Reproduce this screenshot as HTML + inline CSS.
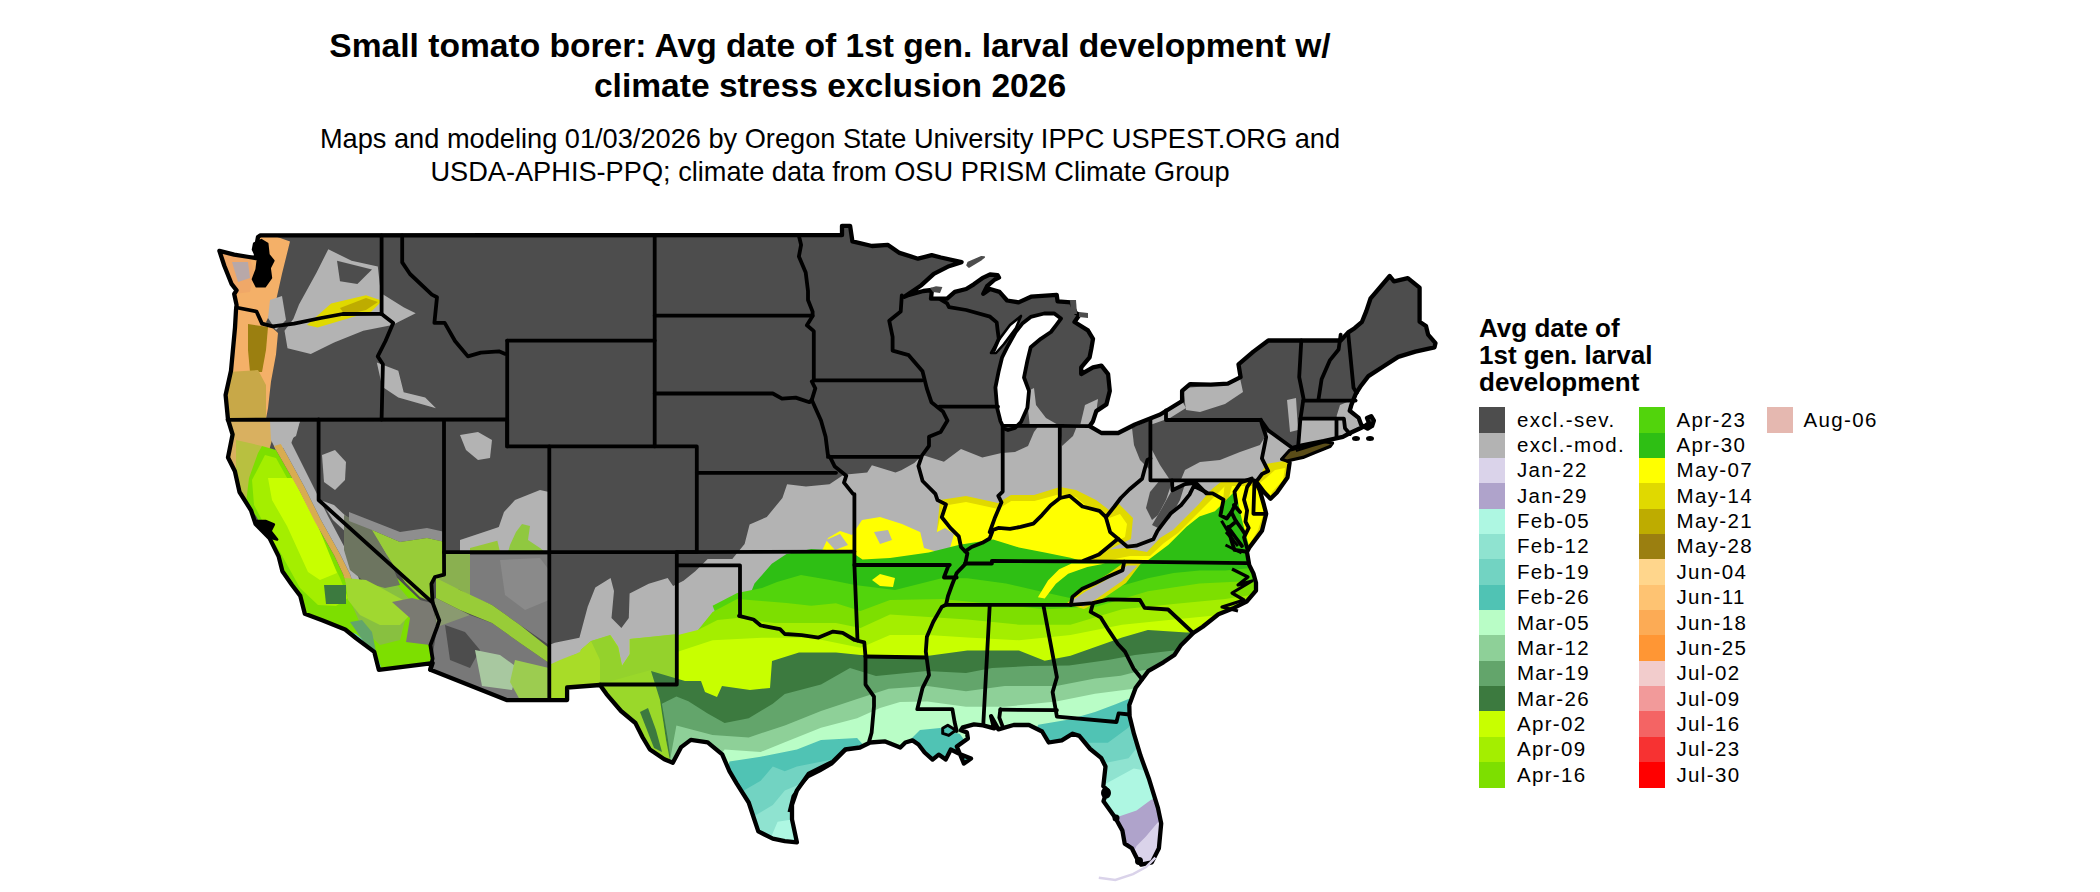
<!DOCTYPE html>
<html><head><meta charset="utf-8">
<style>
html,body{margin:0;padding:0;background:#fff;}
body{width:2100px;height:892px;position:relative;overflow:hidden;font-family:"Liberation Sans",sans-serif;color:#000;}
.t{position:absolute;white-space:nowrap;left:0;width:1660px;text-align:center;}
#t1{top:26px;font-size:33.6px;font-weight:bold;line-height:39.8px;}
#s1{top:122px;font-size:27.2px;line-height:33.3px;}
#map{position:absolute;left:0;top:0;}
.lt{position:absolute;left:1479px;top:314.5px;font-size:26px;font-weight:bold;line-height:27.4px;white-space:nowrap;}
.sw{position:absolute;width:25.7px;height:25.5px;}
.lb{position:absolute;font-size:20.5px;line-height:24px;letter-spacing:1.35px;white-space:nowrap;}
</style></head><body>
<div class="t" id="t1">Small tomato borer: Avg date of 1st gen. larval development w/<br>climate stress exclusion 2026</div>
<div class="t" id="s1">Maps and modeling 01/03/2026 by Oregon State University IPPC USPEST.ORG and<br>USDA-APHIS-PPQ; climate data from OSU PRISM Climate Group</div>
<svg id="map" width="2100" height="892" viewBox="0 0 2100 892"><defs><clipPath id="lc"><polygon points="260.5,235.3 842.0,235.2 842.0,225.8 850.1,225.8 852.4,241.4 872.0,246.0 888.0,244.9 899.5,252.9 918.0,258.7 931.7,255.2 941.0,257.5 961.6,262.1 949.0,266.2 933.8,273.8 921.4,285.2 904.3,296.7 909.0,294.8 923.3,291.0 931.9,290.0 931.0,298.6 939.5,298.6 947.1,298.6 954.8,291.9 966.2,289.0 973.8,284.3 983.3,277.6 990.0,274.5 997.6,275.2 999.0,277.5 994.8,279.5 987.1,286.2 983.3,293.8 990.0,289.0 999.5,291.9 1007.1,300.5 1018.6,302.4 1031.0,296.7 1056.7,294.8 1057.6,301.4 1071.0,302.4 1075.7,312.9 1079.5,314.8 1074.5,322.0 1087.9,330.4 1093.0,338.8 1091.3,348.9 1089.6,357.3 1081.2,367.4 1081.2,374.1 1093.0,367.4 1101.4,365.7 1108.1,374.1 1109.8,390.9 1106.4,404.4 1096.3,411.1 1093.0,421.2 1089.6,426.2 1101.4,433.0 1118.2,433.0 1135.0,424.5 1160.2,414.5 1182.1,401.0 1182.1,390.9 1190.0,384.2 1210.8,384.6 1227.8,383.6 1240.6,377.2 1238.5,364.4 1253.4,351.6 1268.3,340.5 1340.7,340.5 1348.2,332.4 1354.6,328.2 1362.0,321.8 1366.3,311.1 1370.6,298.3 1389.7,276.0 1394.0,281.3 1407.8,278.1 1419.6,287.7 1419.6,321.8 1426.0,326.0 1428.1,334.6 1435.5,343.1 1434.5,347.3 1415.3,351.6 1398.2,356.9 1383.3,366.5 1368.4,376.1 1361.0,385.7 1355.6,394.2 1351.4,404.9 1349.7,410.8 1358.7,417.9 1361.3,425.1 1367.6,428.7 1372.1,426.0 1373.9,420.6 1371.2,416.1 1367.0,418.0 1369.0,423.0 1365.0,426.0 1358.7,429.0 1350.0,433.0 1342.9,436.8 1323.7,441.1 1302.4,445.3 1293.9,447.5 1285.4,458.4 1289.6,462.6 1287.5,477.5 1276.9,492.4 1270.5,498.8 1264.0,492.0 1258.0,484.0 1256.0,482.5 1259.8,490.3 1264.0,505.2 1266.2,513.8 1262.0,530.8 1249.2,547.8 1247.0,552.1 1249.2,564.9 1253.4,573.4 1256.0,582.8 1256.0,590.6 1246.6,601.6 1234.0,607.9 1218.4,614.2 1202.7,626.7 1193.2,633.0 1180.7,645.6 1174.4,655.0 1163.4,662.3 1148.5,670.8 1142.1,679.3 1135.7,687.8 1129.3,704.9 1129.6,716.2 1133.9,733.7 1140.5,755.6 1149.2,779.6 1158.0,808.1 1161.2,823.5 1158.9,848.3 1151.8,862.4 1141.2,864.7 1137.7,860.0 1131.8,848.3 1124.7,843.6 1122.4,830.6 1115.3,817.7 1103.5,801.2 1105.5,795.0 1107.7,790.6 1103.3,786.2 1105.5,766.5 1101.1,757.8 1090.2,749.0 1079.3,735.9 1072.7,733.7 1061.8,740.3 1048.7,742.5 1042.1,731.5 1029.0,725.0 1013.7,725.0 998.4,729.4 991.1,716.2 994.2,728.3 983.1,725.3 974.0,724.3 962.9,727.3 960.9,730.3 966.9,732.4 967.9,738.4 956.8,746.5 963.9,763.6 971.0,758.6 960.9,754.6 950.8,749.5 945.7,759.6 938.7,754.6 932.6,759.6 924.6,752.5 918.5,744.5 912.5,740.4 905.4,742.5 900.3,747.5 885.2,741.4 870.1,742.5 860.0,747.5 845.1,749.5 833.0,761.6 808.9,773.6 796.9,790.5 792.0,804.9 792.0,819.4 796.9,842.3 784.8,841.1 772.8,838.7 758.3,831.4 753.5,817.0 748.7,802.5 736.6,783.3 729.4,771.2 722.2,754.3 707.7,742.3 690.8,739.9 681.2,747.1 672.8,762.8 664.3,759.2 649.9,749.5 642.7,737.5 635.4,723.0 621.0,711.0 606.5,694.1 600.0,685.0 567.1,687.5 567.1,700.1 506.6,700.1 430.4,669.8 432.6,663.1 378.8,669.8 374.3,651.9 356.4,638.5 345.2,629.5 322.8,620.5 304.8,613.8 300.3,595.9 292.0,585.0 282.4,571.2 278.6,556.3 269.4,537.9 255.6,524.1 251.0,510.3 239.5,492.0 234.9,471.3 228.0,457.5 232.6,434.5 228.0,419.5 225.6,395.0 231.0,370.7 235.0,327.6 236.0,310.0 236.6,305.1 234.2,294.0 236.6,290.3 231.7,284.2 224.3,265.7 219.4,250.9 234.2,254.6 249.0,257.0 256.0,258.0 256.0,248.0 258.0,237.0"/></clipPath></defs><polygon points="260.5,235.3 842.0,235.2 842.0,225.8 850.1,225.8 852.4,241.4 872.0,246.0 888.0,244.9 899.5,252.9 918.0,258.7 931.7,255.2 941.0,257.5 961.6,262.1 949.0,266.2 933.8,273.8 921.4,285.2 904.3,296.7 909.0,294.8 923.3,291.0 931.9,290.0 931.0,298.6 939.5,298.6 947.1,298.6 954.8,291.9 966.2,289.0 973.8,284.3 983.3,277.6 990.0,274.5 997.6,275.2 999.0,277.5 994.8,279.5 987.1,286.2 983.3,293.8 990.0,289.0 999.5,291.9 1007.1,300.5 1018.6,302.4 1031.0,296.7 1056.7,294.8 1057.6,301.4 1071.0,302.4 1075.7,312.9 1079.5,314.8 1074.5,322.0 1087.9,330.4 1093.0,338.8 1091.3,348.9 1089.6,357.3 1081.2,367.4 1081.2,374.1 1093.0,367.4 1101.4,365.7 1108.1,374.1 1109.8,390.9 1106.4,404.4 1096.3,411.1 1093.0,421.2 1089.6,426.2 1101.4,433.0 1118.2,433.0 1135.0,424.5 1160.2,414.5 1182.1,401.0 1182.1,390.9 1190.0,384.2 1210.8,384.6 1227.8,383.6 1240.6,377.2 1238.5,364.4 1253.4,351.6 1268.3,340.5 1340.7,340.5 1348.2,332.4 1354.6,328.2 1362.0,321.8 1366.3,311.1 1370.6,298.3 1389.7,276.0 1394.0,281.3 1407.8,278.1 1419.6,287.7 1419.6,321.8 1426.0,326.0 1428.1,334.6 1435.5,343.1 1434.5,347.3 1415.3,351.6 1398.2,356.9 1383.3,366.5 1368.4,376.1 1361.0,385.7 1355.6,394.2 1351.4,404.9 1349.7,410.8 1358.7,417.9 1361.3,425.1 1367.6,428.7 1372.1,426.0 1373.9,420.6 1371.2,416.1 1367.0,418.0 1369.0,423.0 1365.0,426.0 1358.7,429.0 1350.0,433.0 1342.9,436.8 1323.7,441.1 1302.4,445.3 1293.9,447.5 1285.4,458.4 1289.6,462.6 1287.5,477.5 1276.9,492.4 1270.5,498.8 1264.0,492.0 1258.0,484.0 1256.0,482.5 1259.8,490.3 1264.0,505.2 1266.2,513.8 1262.0,530.8 1249.2,547.8 1247.0,552.1 1249.2,564.9 1253.4,573.4 1256.0,582.8 1256.0,590.6 1246.6,601.6 1234.0,607.9 1218.4,614.2 1202.7,626.7 1193.2,633.0 1180.7,645.6 1174.4,655.0 1163.4,662.3 1148.5,670.8 1142.1,679.3 1135.7,687.8 1129.3,704.9 1129.6,716.2 1133.9,733.7 1140.5,755.6 1149.2,779.6 1158.0,808.1 1161.2,823.5 1158.9,848.3 1151.8,862.4 1141.2,864.7 1137.7,860.0 1131.8,848.3 1124.7,843.6 1122.4,830.6 1115.3,817.7 1103.5,801.2 1105.5,795.0 1107.7,790.6 1103.3,786.2 1105.5,766.5 1101.1,757.8 1090.2,749.0 1079.3,735.9 1072.7,733.7 1061.8,740.3 1048.7,742.5 1042.1,731.5 1029.0,725.0 1013.7,725.0 998.4,729.4 991.1,716.2 994.2,728.3 983.1,725.3 974.0,724.3 962.9,727.3 960.9,730.3 966.9,732.4 967.9,738.4 956.8,746.5 963.9,763.6 971.0,758.6 960.9,754.6 950.8,749.5 945.7,759.6 938.7,754.6 932.6,759.6 924.6,752.5 918.5,744.5 912.5,740.4 905.4,742.5 900.3,747.5 885.2,741.4 870.1,742.5 860.0,747.5 845.1,749.5 833.0,761.6 808.9,773.6 796.9,790.5 792.0,804.9 792.0,819.4 796.9,842.3 784.8,841.1 772.8,838.7 758.3,831.4 753.5,817.0 748.7,802.5 736.6,783.3 729.4,771.2 722.2,754.3 707.7,742.3 690.8,739.9 681.2,747.1 672.8,762.8 664.3,759.2 649.9,749.5 642.7,737.5 635.4,723.0 621.0,711.0 606.5,694.1 600.0,685.0 567.1,687.5 567.1,700.1 506.6,700.1 430.4,669.8 432.6,663.1 378.8,669.8 374.3,651.9 356.4,638.5 345.2,629.5 322.8,620.5 304.8,613.8 300.3,595.9 292.0,585.0 282.4,571.2 278.6,556.3 269.4,537.9 255.6,524.1 251.0,510.3 239.5,492.0 234.9,471.3 228.0,457.5 232.6,434.5 228.0,419.5 225.6,395.0 231.0,370.7 235.0,327.6 236.0,310.0 236.6,305.1 234.2,294.0 236.6,290.3 231.7,284.2 224.3,265.7 219.4,250.9 234.2,254.6 249.0,257.0 256.0,258.0 256.0,248.0 258.0,237.0" fill="#4d4d4d"/><g clip-path="url(#lc)"><polygon points="549.0,645.0 554.8,642.7 579.4,637.8 587.7,606.7 595.3,587.6 610.6,578.1 614.0,591.0 611.5,618.1 621.4,628.0 628.8,618.1 629.6,593.4 648.7,583.8 667.7,578.1 673.1,586.0 678.0,583.6 683.5,580.7 695.3,571.3 707.7,558.9 732.3,558.9 744.6,544.1 749.6,524.4 766.8,517.0 782.4,498.0 787.1,484.2 806.0,486.5 829.5,484.2 843.7,474.7 867.2,472.4 871.9,465.3 895.5,472.4 901.3,470.3 914.3,463.0 922.6,455.0 943.9,461.8 961.0,449.0 982.3,457.5 1001.5,453.0 1015.0,452.0 1028.0,446.0 1034.0,432.0 1040.0,424.0 1060.0,424.0 1089.0,424.0 1101.4,433.0 1118.2,433.0 1135.0,424.5 1150.0,420.0 1262.0,420.0 1275.0,436.0 1290.0,447.0 1300.0,447.0 1460.0,447.0 1460.0,900.0 540.0,900.0" fill="#b3b3b3"/><polygon points="1060.0,426.0 1077.0,426.0 1073.0,436.0 1062.0,446.0" fill="#4d4d4d"/><polygon points="1026.0,392.0 1034.0,388.0 1036.0,405.0 1046.0,418.0 1060.0,426.0 1030.0,427.0" fill="#b3b3b3"/><polygon points="1085.0,405.0 1098.0,399.0 1096.0,414.0 1090.0,426.0 1080.0,426.0" fill="#b3b3b3"/><polygon points="1150.0,420.0 1262.0,420.0 1268.0,432.0 1260.0,445.0 1240.0,452.0 1220.0,460.0 1200.0,462.0 1185.0,470.0 1180.0,482.0 1170.0,480.0 1160.0,465.0 1152.0,450.0" fill="#4d4d4d"/><polygon points="1183.0,388.0 1210.0,386.0 1228.0,385.0 1240.0,378.0 1243.0,392.0 1225.0,404.0 1200.0,412.0 1186.0,410.0" fill="#b3b3b3"/><polygon points="1150.0,419.0 1166.0,411.0 1182.0,401.0 1186.0,408.0 1170.0,418.0 1150.0,425.0" fill="#b3b3b3"/><polygon points="1300.0,420.0 1336.0,418.0 1340.0,405.0 1352.0,400.0 1362.0,420.0 1370.0,432.0 1345.0,440.0 1300.0,447.0" fill="#b3b3b3"/><polygon points="1287.0,400.0 1296.0,398.0 1298.0,430.0 1290.0,432.0" fill="#b3b3b3"/><polygon points="1380.0,370.0 1398.0,360.0 1412.0,356.0 1408.0,368.0 1392.0,374.0" fill="#b3b3b3"/><polygon points="1132.0,428.0 1150.0,420.0 1150.0,470.0 1140.0,460.0 1134.0,445.0" fill="#4d4d4d"/><polygon points="1150.0,492.0 1160.0,480.0 1172.0,482.0 1166.0,500.0 1158.0,515.0 1152.0,520.0 1146.0,508.0" fill="#4d4d4d"/><polygon points="1172.0,490.0 1185.0,484.0 1180.0,500.0 1170.0,518.0 1158.0,528.0 1152.0,525.0 1162.0,508.0" fill="#4d4d4d"/><polygon points="936.0,540.0 940.0,500.0 966.0,496.0 998.0,503.0 1011.0,495.0 1034.0,495.0 1060.0,487.0 1076.0,490.0 1096.0,500.0 1109.0,510.0 1118.0,503.0 1133.0,518.0 1131.0,539.0 1112.0,548.0 1096.0,558.0 1084.0,564.0 1070.0,605.0 940.0,600.0" fill="#e0d900"/><polygon points="820.0,555.0 828.0,538.0 840.0,531.0 852.0,535.0 862.0,520.0 880.0,517.0 902.0,524.0 920.0,532.0 936.0,536.0 942.6,506.0 966.0,502.0 998.3,509.0 1011.2,501.0 1034.4,501.0 1060.2,494.0 1075.7,497.0 1085.0,505.0 1096.3,512.0 1109.2,518.0 1120.0,514.0 1127.0,524.0 1125.0,537.0 1109.2,544.8 1093.7,555.1 1083.4,561.0 1070.0,605.0 900.0,700.0 815.0,700.0" fill="#ffff00"/><polygon points="920.0,531.0 935.0,533.0 945.0,528.0 954.0,534.0 950.0,548.0 938.0,552.0 924.0,548.0" fill="#b3b3b3"/><polygon points="874.0,532.0 888.0,530.0 892.0,540.0 880.0,544.0" fill="#b3b3b3"/><polygon points="826.0,540.0 840.0,534.0 848.0,545.0 835.0,550.0" fill="#b3b3b3"/><polygon points="1083.0,562.0 1105.0,550.0 1125.0,548.0 1147.0,552.0 1160.0,538.0 1173.0,530.0 1186.0,517.0 1199.0,504.0 1212.0,489.0 1222.0,481.0 1256.0,482.0 1262.0,500.0 1250.0,540.0 1246.0,564.0" fill="#e0d900"/><polygon points="1100.0,562.0 1130.0,556.0 1150.0,556.0 1164.0,543.0 1178.0,533.0 1190.0,521.0 1203.0,508.0 1216.0,495.0 1228.0,483.0 1256.0,483.0 1262.0,500.0 1250.0,540.0 1246.0,564.0" fill="#ffff00"/><polygon points="1225.0,480.0 1256.0,481.0 1262.0,472.0 1266.0,464.0 1290.0,460.0 1289.0,462.0 1287.0,477.0 1277.0,492.0 1266.0,513.0 1262.0,530.0 1249.0,548.0 1236.0,539.0 1230.0,518.0 1221.0,513.0 1223.0,501.0" fill="#e0d900"/><polygon points="1232.0,486.0 1256.0,486.0 1266.0,478.0 1275.0,470.0 1285.0,468.0 1283.0,480.0 1272.0,492.0 1264.0,512.0 1258.0,530.0 1249.0,545.0 1238.0,536.0 1232.0,518.0 1226.0,508.0" fill="#ffff00"/><polygon points="740.0,620.0 754.5,583.6 771.8,563.8 786.5,554.0 811.2,549.0 850.7,551.5 862.5,559.5 890.0,558.0 928.7,552.5 959.6,544.8 993.1,539.6 1018.9,547.4 1044.7,552.5 1070.5,557.7 1083.4,561.5 1124.0,562.0 1132.4,568.0 1147.9,560.3 1168.5,544.8 1186.5,526.7 1199.4,516.4 1214.9,511.3 1225.2,500.9 1235.5,490.6 1242.0,520.0 1250.0,550.0 1300.0,560.0 1300.0,900.0 740.0,900.0" fill="#2ebf14"/><polygon points="697.8,632.9 717.5,618.1 712.6,605.7 737.2,593.0 762.0,588.0 777.0,582.0 801.0,575.0 830.0,580.0 855.0,585.0 895.0,590.0 942.6,578.0 967.4,578.3 1006.0,583.5 1039.6,591.2 1070.0,598.0 1100.0,592.0 1147.9,578.3 1173.6,573.1 1199.4,570.6 1225.2,570.6 1251.0,568.0 1300.0,568.0 1300.0,900.0 697.0,900.0" fill="#52d40c"/><polygon points="690.0,640.0 712.6,612.0 737.2,599.0 761.9,601.0 786.5,603.0 811.2,605.7 835.9,603.3 860.5,611.0 890.0,600.0 941.6,599.0 993.1,604.1 1044.7,609.2 1096.3,606.7 1147.9,591.2 1199.4,583.5 1251.0,580.9 1300.0,580.0 1300.0,900.0 690.0,900.0" fill="#7ddf00"/><polygon points="551.5,662.0 576.3,654.3 591.5,641.0 610.6,635.3 618.2,646.7 622.0,665.8 629.6,654.3 629.6,639.1 648.7,637.2 667.7,635.3 678.0,635.0 697.8,630.0 717.5,620.0 737.2,618.1 774.2,623.0 811.2,623.0 835.9,623.0 860.5,627.9 890.0,614.4 928.7,617.0 967.4,619.6 1018.9,624.7 1070.5,624.7 1122.1,609.2 1173.6,604.1 1225.2,598.9 1258.8,593.8 1300.0,593.0 1300.0,900.0 549.0,900.0" fill="#a4ee00"/><polygon points="677.0,690.0 677.0,652.0 712.6,640.3 761.9,637.8 811.2,637.8 860.5,647.7 890.0,635.0 928.7,635.0 967.4,637.6 1018.9,640.2 1070.5,635.0 1122.1,624.7 1173.6,619.6 1225.2,614.4 1300.0,612.0 1300.0,900.0 580.0,900.0" fill="#c8ff00"/><polygon points="549.0,662.0 576.0,654.0 591.0,641.0 610.0,635.0 618.0,647.0 622.0,666.0 630.0,654.0 630.0,639.0 649.0,637.0 668.0,635.0 677.0,634.0 677.0,684.0 600.0,684.0 567.0,688.0 567.0,700.0 549.0,700.0" fill="#94d22c"/><polygon points="600.0,684.0 651.0,670.0 660.0,700.0 666.0,740.0 672.0,765.0 664.0,760.0 650.0,750.0 642.0,737.0 635.0,723.0 621.0,711.0 606.0,694.0" fill="#9ad82a"/><polygon points="640.0,712.0 648.0,708.0 656.0,730.0 662.0,752.0 654.0,748.0" fill="#3c7a3f"/><polygon points="672.0,900.0 672.0,770.0 666.0,740.0 660.0,700.0 651.0,671.0 685.0,681.0 701.0,681.0 705.0,692.0 717.0,697.0 722.0,686.0 750.0,690.0 770.0,688.0 772.0,661.0 799.0,652.6 836.0,652.6 860.5,655.0 890.0,655.7 928.7,655.7 967.4,650.5 1018.9,650.5 1044.7,660.8 1070.5,655.7 1122.1,637.6 1147.9,629.9 1186.5,632.5 1300.0,630.0 1300.0,900.0" fill="#3c7a3f"/><polygon points="672.0,900.0 672.0,770.0 668.0,740.0 661.9,703.7 676.4,696.5 688.4,701.3 707.7,713.4 724.6,723.0 748.7,718.2 772.8,703.7 784.8,694.1 821.0,684.5 850.0,668.0 876.0,676.0 927.0,671.0 966.0,673.0 992.0,668.0 1030.0,666.0 1069.0,665.5 1108.0,660.0 1135.0,655.0 1173.6,650.5 1300.0,650.0 1300.0,900.0" fill="#63a56b"/><polygon points="670.0,760.0 676.4,725.4 712.5,735.1 748.7,737.5 784.8,725.4 821.0,711.0 857.1,698.9 888.7,688.7 927.4,686.1 966.0,691.3 1004.7,686.1 1056.3,686.1 1095.0,678.4 1120.8,675.8 1141.4,670.6 1173.6,666.0 1300.0,665.0 1300.0,900.0 670.0,900.0" fill="#8ed098"/><polygon points="700.0,780.0 724.6,749.5 760.7,751.9 784.8,742.3 821.0,727.8 857.1,718.2 880.0,708.0 900.0,702.0 927.4,701.6 966.0,706.7 1004.7,706.7 1056.3,701.6 1095.0,693.8 1133.7,688.7 1146.5,678.4 1300.0,678.0 1300.0,900.0 700.0,900.0" fill="#b9fdc6"/><polygon points="700.0,900.0 729.4,761.6 760.7,756.7 796.9,749.5 821.0,739.9 857.1,738.0 866.0,748.0 900.0,752.0 912.0,738.0 920.0,730.0 940.0,728.0 960.0,734.0 985.0,770.0 1020.0,770.0 1038.2,724.8 1069.2,719.6 1095.0,711.9 1115.6,704.2 1128.5,699.0 1200.0,699.0 1200.0,900.0" fill="#50c3b4"/><polygon points="700.0,900.0 743.9,790.5 760.7,780.8 772.8,766.4 784.8,771.2 796.9,766.4 830.0,760.0 850.0,800.0 850.0,900.0" fill="#72d3c2"/><polygon points="1060.0,780.0 1082.1,742.8 1107.9,742.8 1128.5,727.4 1133.7,719.6 1200.0,719.0 1200.0,900.0 1060.0,900.0" fill="#72d3c2"/><polygon points="700.0,900.0 748.7,819.4 772.8,804.9 784.8,790.5 810.0,780.0 850.0,900.0" fill="#8fe3d0"/><polygon points="1080.0,800.0 1102.7,763.5 1128.5,758.3 1138.8,745.4 1200.0,745.0 1200.0,900.0 1080.0,900.0" fill="#8fe3d0"/><polygon points="740.0,900.0 770.4,838.7 777.6,821.8 792.0,819.4 830.0,830.0 830.0,900.0" fill="#aef7e2"/><polygon points="1090.0,810.0 1105.3,784.1 1133.7,768.6 1149.1,771.2 1200.0,771.0 1200.0,900.0 1090.0,900.0" fill="#aef7e2"/><polygon points="1100.0,830.0 1118.9,816.5 1136.5,810.6 1150.7,800.0 1162.0,795.0 1200.0,795.0 1200.0,900.0 1100.0,900.0" fill="#afa3cb"/><polygon points="1120.0,880.0 1136.5,846.0 1145.9,836.5 1157.7,822.4 1170.0,815.0 1200.0,815.0 1200.0,900.0 1120.0,900.0" fill="#dad3ea"/><polygon points="872.0,580.0 880.0,574.0 895.0,578.0 893.0,587.0 880.0,586.0" fill="#ffff00"/><polygon points="1066.0,604.0 1084.0,588.0 1108.0,574.0 1126.0,561.0 1142.0,562.0 1126.0,583.0 1098.0,602.0 1084.0,609.0" fill="#e0d900"/><polygon points="1070.5,601.5 1086.0,591.2 1109.2,578.3 1127.2,565.4 1137.5,565.4 1122.1,580.9 1096.3,598.9 1083.4,606.7" fill="#b3b3b3"/><polygon points="1037.9,597.3 1048.0,580.4 1059.2,569.2 1071.6,563.6 1105.2,563.6 1087.3,567.0 1068.2,573.7 1055.9,583.8 1044.7,598.4" fill="#ffff00"/><polygon points="200.0,230.0 274.6,236.0 290.0,241.5 282.0,273.8 276.0,300.7 266.0,322.2 278.0,333.0 276.0,354.5 271.0,381.4 268.0,408.3 266.0,419.1 268.0,430.0 270.0,445.0 257.0,456.0 243.0,490.0 250.0,515.0 268.0,546.0 200.0,560.0" fill="#f4b068"/><polygon points="228.0,420.0 266.0,420.0 270.0,445.0 257.0,456.0 243.0,490.0 250.0,515.0 240.0,500.0 232.0,470.0 226.0,440.0" fill="#d8b458"/><polygon points="248.0,324.0 268.0,327.0 266.0,350.0 262.0,372.0 250.0,372.0 248.0,350.0" fill="#9b7f10"/><polygon points="228.0,372.0 258.0,370.0 266.0,385.0 266.0,419.0 228.0,420.0" fill="#c8a848"/><polygon points="222.0,252.0 250.0,258.0 254.0,272.0 250.0,292.0 234.0,294.0 226.0,275.0" fill="#f0a868"/><polygon points="232.0,262.0 248.0,262.0 250.0,278.0 238.0,282.0" fill="#b8a8a8"/><polygon points="299.0,304.5 316.6,272.5 328.3,249.2 351.6,260.8 377.8,266.6 380.8,292.9 404.0,307.5 415.7,313.3 392.4,325.0 363.3,330.8 334.1,342.4 310.8,354.1 287.5,348.3 284.5,330.8 293.3,319.1" fill="#b3b3b3"/><polygon points="337.0,260.8 372.0,269.6 357.4,284.1 340.0,281.2" fill="#4d4d4d"/><polygon points="306.9,324.9 331.1,303.4 366.0,295.3 382.2,300.7 371.4,311.5 344.5,319.5 317.6,327.6" fill="#e0d900"/><polygon points="340.0,308.0 366.0,298.0 378.0,302.0 366.0,310.0 345.0,315.0" fill="#beac00"/><polygon points="376.8,362.6 398.3,370.7 403.7,392.2 425.2,397.6 436.0,408.3 398.3,397.6 382.2,386.8" fill="#b3b3b3"/><polygon points="460.0,435.0 478.0,432.0 492.0,440.0 490.0,458.0 478.0,460.0 466.0,450.0" fill="#b3b3b3"/><polygon points="270.0,300.0 282.0,296.0 286.0,320.0 276.0,330.0 268.0,318.0" fill="#b3b3b3"/><polygon points="268.0,421.0 300.0,421.0 296.0,436.0 286.0,442.0 276.0,440.0" fill="#b3b3b3"/><polygon points="322.0,455.0 335.0,450.0 346.0,462.0 345.0,480.0 335.0,490.0 324.0,482.0" fill="#b3b3b3"/><polygon points="320.0,500.0 334.0,505.0 350.0,520.0 366.0,534.0 384.0,545.0 400.0,548.0 420.0,546.0 444.0,542.0 444.0,552.0 420.0,556.0 395.0,558.0 372.0,550.0 350.0,536.0 333.0,520.0" fill="#b3b3b3"/><polygon points="228.0,420.0 271.0,421.0 272.0,440.0 266.0,462.0 256.0,495.0 262.0,518.0 250.0,512.0 238.0,490.0 230.0,460.0" fill="#d9b060"/><polygon points="236.0,440.0 262.0,446.0 258.0,470.0 248.0,500.0 256.0,520.0 244.0,505.0 236.0,480.0" fill="#b8c040"/><polygon points="270.0,421.0 300.0,421.0 290.0,446.0 276.0,450.0 271.0,440.0" fill="#b3b3b3"/><polygon points="262.0,446.0 276.0,450.0 299.0,490.0 315.0,522.0 334.0,555.0 343.0,574.0 353.0,598.0 368.0,588.0 393.0,574.0 420.0,600.0 432.0,615.0 432.0,664.0 379.0,670.0 374.0,652.0 356.0,638.0 345.0,630.0 323.0,620.0 305.0,614.0 300.0,596.0 292.0,585.0 282.0,571.0 279.0,556.0 269.0,538.0 262.0,527.0 256.0,516.0 246.0,503.0 249.0,478.0 258.0,453.0" fill="#7ddf00"/><polygon points="265.0,455.0 276.0,458.0 296.0,494.0 312.0,526.0 330.0,558.0 340.0,578.0 348.0,598.0 336.0,606.0 318.0,605.0 300.0,588.0 290.0,570.0 280.0,552.0 270.0,536.0 262.0,520.0 254.0,505.0 252.0,480.0" fill="#a4ee00"/><polygon points="268.0,478.0 293.0,478.0 318.0,526.0 337.0,573.0 320.0,580.0 308.0,572.0 287.0,526.0 272.0,500.0" fill="#c8ff00"/><polygon points="324.0,585.0 346.0,585.0 346.0,604.0 326.0,604.0" fill="#3c7a3f"/><polygon points="350.0,600.0 370.0,592.0 393.0,580.0 410.0,600.0 400.0,640.0 380.0,645.0 362.0,628.0" fill="#88c040"/><polygon points="309.0,621.0 334.0,626.0 356.0,634.0 374.0,648.0 381.0,667.0 372.0,664.0 352.0,646.0 330.0,634.0" fill="#72d3c2"/><polygon points="350.0,622.0 362.0,620.0 372.0,632.0 376.0,652.0 366.0,645.0" fill="#63a56b"/><polygon points="274.0,446.0 281.0,444.0 304.0,486.0 321.0,520.0 340.0,554.0 350.0,574.0 358.0,598.0 352.0,600.0 343.0,574.0 334.0,555.0 315.0,522.0 299.0,490.0 276.0,450.0" fill="#d8ac50"/><polygon points="281.0,444.0 290.0,440.0 310.0,480.0 328.0,516.0 346.0,550.0 356.0,570.0 364.0,594.0 358.0,598.0 350.0,574.0 340.0,554.0 321.0,520.0 304.0,486.0" fill="#b3b3b3"/><polygon points="344.0,515.0 372.0,528.0 390.0,560.0 400.0,585.0 385.0,588.0 366.0,583.0 350.0,570.0 344.0,550.0" fill="#6d7560"/><polygon points="349.0,512.0 372.0,521.0 400.0,532.0 427.0,528.0 445.0,532.0 445.0,542.0 427.0,538.0 400.0,542.0 372.0,530.0 349.0,521.0" fill="#8e8e8e"/><polygon points="372.0,530.0 400.0,542.0 427.0,538.0 445.0,542.0 445.0,574.0 434.0,577.0 431.0,584.0 432.0,602.0 420.0,597.0 405.0,582.0 390.0,560.0" fill="#98cc38"/><polygon points="345.0,578.0 366.0,580.0 385.0,590.0 403.0,600.0 410.0,615.0 400.0,625.0 380.0,625.0 360.0,615.0 348.0,600.0" fill="#a0d830"/><polygon points="392.0,602.0 412.0,598.0 432.0,603.0 437.0,627.0 430.0,645.0 406.0,642.0 410.0,618.0" fill="#7a7a72"/><polygon points="460.0,540.0 490.0,530.0 520.0,520.0 540.0,515.0 549.0,520.0 549.0,552.0 520.0,552.0 490.0,552.0 460.0,552.0" fill="#b3b3b3"/><polygon points="470.0,548.0 500.0,540.0 525.0,532.0 540.0,540.0 549.0,545.0 549.0,552.0 520.0,552.0 490.0,552.0 470.0,552.0" fill="#98c838"/><polygon points="504.0,512.0 515.0,500.0 530.0,494.0 540.0,490.0 549.0,492.0 549.0,552.0 500.0,552.0 496.0,535.0" fill="#b3b3b3"/><polygon points="510.0,545.0 516.0,532.0 522.0,524.0 530.0,526.0 528.0,540.0 540.0,548.0 545.0,552.0 508.0,552.0" fill="#90c840"/><polygon points="470.0,555.0 549.0,555.0 549.0,645.0 520.0,625.0 492.0,605.0 470.0,596.0" fill="#7c7c7c"/><polygon points="444.0,552.0 470.0,552.0 470.0,596.0 460.0,590.0 444.0,585.0 434.0,577.0 444.0,574.0" fill="#8ab050"/><polygon points="500.0,560.0 540.0,558.0 549.0,570.0 549.0,600.0 525.0,610.0 505.0,595.0" fill="#8a8a8a"/><polygon points="432.0,600.0 436.0,598.0 460.0,610.0 470.0,615.0 470.0,640.0 437.0,627.0" fill="#8a9a70"/><polygon points="470.0,615.0 470.0,615.0 470.0,615.0 492.0,623.0 520.0,643.0 549.0,663.0 549.0,700.0 506.6,700.0 430.0,670.0 432.0,660.0 437.0,627.0" fill="#787878"/><polygon points="445.0,625.0 465.0,632.0 480.0,650.0 470.0,668.0 450.0,660.0" fill="#4d4d4d"/><polygon points="436.0,578.0 460.0,590.0 492.0,605.0 520.0,625.0 549.0,648.0 549.0,663.0 520.0,643.0 492.0,623.0 460.0,610.0 436.0,598.0" fill="#98cc38"/><polygon points="475.0,650.0 500.0,655.0 518.0,668.0 512.0,690.0 482.0,686.0" fill="#a8c8a0"/><polygon points="515.0,660.0 549.0,668.0 549.0,700.0 520.0,700.0 510.0,682.0" fill="#9ccc50"/><polygon points="549.0,662.0 576.0,654.0 591.0,641.0 600.0,660.0 600.0,685.0 567.0,688.0 567.0,700.0 549.0,700.0" fill="#a8dc28"/><polygon points="549.0,645.0 575.0,640.0 585.0,636.0 580.0,652.0 560.0,660.0 549.0,665.0" fill="#b3b3b3"/></g><polygon points="1004.0,428.5 1000.5,421.2 997.1,407.7 995.4,387.5 998.8,370.7 1002.1,357.3 1007.2,347.2 1015.6,332.0 1022.3,323.6 1030.7,316.9 1044.2,313.5 1054.3,313.5 1061.0,318.6 1056.0,325.3 1050.9,332.0 1040.8,338.8 1030.7,347.2 1027.4,360.6 1024.0,377.5 1029.0,390.9 1027.4,407.7 1021.0,422.0 1015.0,428.0 1008.0,430.0" fill="#fff" stroke="#000" stroke-width="3.8" stroke-linejoin="round"/><polygon points="991.0,353.0 998.0,341.0 1010.0,325.0 1021.0,316.0 1016.0,328.0 1004.0,344.0 996.0,353.0" fill="#fff" stroke="#000" stroke-width="2.6" stroke-linejoin="round"/><g fill="none" stroke="#000" stroke-width="3.8" stroke-linejoin="round" stroke-linecap="round"><polyline points="236.3,307.5 256.5,311.5 262.0,323.6 272.7,326.3 294.0,323.6 321.0,318.0 342.6,314.0 381.6,313.9"/><polyline points="381.6,235.3 381.6,313.9"/><polyline points="381.6,313.9 393.2,322.9 385.5,341.0 377.7,356.4 382.9,364.2 381.6,419.5"/><polyline points="227.5,419.8 507.2,419.5"/><polyline points="402.2,235.3 402.2,262.4 410.0,274.0 431.9,294.6 437.0,297.2 434.4,322.9 444.7,322.9 455.0,341.0 467.9,356.4 480.8,352.6 498.9,351.3 505.3,353.9"/><polyline points="507.2,340.6 507.2,446.4"/><polyline points="507.2,340.6 654.7,340.6"/><polyline points="654.7,235.3 654.7,446.4"/><polyline points="654.7,315.7 812.6,315.7"/><polyline points="654.7,393.5 772.8,393.5 782.0,398.7 795.7,397.6 809.5,402.2 811.8,399.9"/><polyline points="798.9,235.7 801.1,244.9 798.9,256.4 805.7,272.5 808.0,290.9 808.0,300.0 812.6,311.6 812.6,316.1 806.9,325.3 813.8,331.1 813.8,380.5 811.8,381.5 815.3,388.4 811.8,399.9"/><polyline points="811.8,399.9 821.0,420.6 825.6,436.7 827.9,455.1 830.2,457.4 834.8,466.6 846.3,475.7 844.0,482.6 853.2,494.1 854.4,494.1 854.4,565.0 857.5,640.5"/><polyline points="696.9,472.8 836.0,472.8"/><polyline points="549.3,446.4 696.8,446.4 696.8,552.2 549.3,552.2 549.3,446.4"/><polyline points="444.0,420.0 444.0,552.2 549.3,552.2"/><polyline points="507.2,420.0 507.2,446.4 549.3,446.4"/><polyline points="549.3,552.2 549.3,700.1"/><polyline points="676.8,552.2 676.8,684.5 600.0,684.5"/><polyline points="676.8,552.2 854.4,551.6"/><polyline points="676.8,565.4 740.0,565.4 740.0,616.0"/><polyline points="739.0,615.9 753.5,619.5 760.7,625.5 780.0,629.2 784.8,634.0 801.7,635.2 818.6,637.6 833.0,631.6 842.7,632.8 854.7,640.0 864.3,642.4 865.5,656.5"/><polyline points="854.4,565.0 949.8,564.8 948.2,566.2 943.9,577.5 956.7,577.5"/><polyline points="865.5,656.5 926.0,657.5"/><polyline points="865.5,656.5 865.5,684.6 874.0,696.6 874.0,706.1 871.6,732.8 869.2,741.1"/><polyline points="901.8,295.5 900.7,311.6 889.2,320.7 892.6,336.8 892.6,350.6 908.7,355.2 922.5,371.3 926.8,388.4 931.4,402.2 942.9,411.4 947.5,420.6 940.6,432.1 929.0,436.7 929.0,445.9 922.0,455.5 918.4,466.0 922.6,481.0 935.4,493.8 937.5,500.1 946.0,504.4 941.8,517.2 950.3,527.9 958.8,536.4 961.0,547.0 965.2,551.3 967.4,553.4 965.2,564.1 956.7,573.0 952.0,585.0 948.0,596.0 946.0,604.7 941.8,606.9 933.3,621.8 926.9,636.7 925.8,651.6 929.0,675.1 922.6,687.8 917.3,709.2 952.4,709.2 954.6,722.0 956.7,731.0"/><polyline points="813.8,380.3 922.2,380.3"/><polyline points="827.9,456.9 920.5,456.9"/><polyline points="939.4,406.7 998.0,406.7"/><polyline points="940.0,299.0 947.1,303.3 949.0,307.1 966.2,310.0 990.0,316.7 996.7,322.4 997.6,330.0 998.8,338.8 994.0,350.0"/><polyline points="1002.7,426.3 1002.7,491.6 998.3,495.9 1001.5,502.3 995.1,517.2 989.7,532.1"/><polyline points="1150.4,458.4 1147.4,460.0 1144.7,469.0 1142.1,478.8 1129.3,489.5 1120.8,498.0 1114.4,506.5 1105.9,517.2 1099.5,510.8 1082.4,506.5 1069.6,495.9 1060.0,498.0 1050.5,505.5 1042.0,515.1 1033.4,523.6 1020.6,526.8 1010.0,528.9 998.3,527.9 992.9,530.0 989.7,538.5 982.3,542.8 971.6,547.0 965.2,551.3"/><polyline points="1059.8,426.3 1059.8,498.0"/><polyline points="1002.7,425.8 1059.8,425.8 1089.6,426.2"/><polyline points="1105.9,517.2 1110.1,532.1 1118.0,538.8 1099.0,554.5 1083.4,560.8"/><polyline points="965.0,563.5 991.9,563.5 991.9,561.0 1124.2,561.6 1246.6,563.2"/><polyline points="1124.2,561.6 1122.6,570.2 1108.5,576.5 1095.9,582.8 1081.8,589.1 1072.4,596.9 1070.8,604.8"/><polyline points="946.0,604.8 1070.8,604.8 1092.8,603.2 1108.5,599.3 1139.9,600.0 1144.6,607.9 1168.1,609.5 1193.2,633.0"/><polyline points="1093.0,603.5 1090.6,611.9 1100.6,617.3 1108.5,629.9 1117.9,644.0 1125.0,651.6 1133.6,668.7 1142.1,679.3"/><polyline points="989.7,605.8 983.3,724.1"/><polyline points="1043.3,604.8 1056.9,677.2 1052.6,692.1 1056.9,716.6 1116.5,722.0 1118.6,713.4 1129.3,714.5"/><polyline points="1000.4,709.7 1056.9,710.2"/><polyline points="1000.4,709.2 999.3,717.7 1002.5,726.2"/><polyline points="1206.5,492.4 1193.8,486.0 1189.5,494.6 1181.0,505.2 1170.3,513.8 1157.5,530.8 1153.3,539.3 1136.2,545.7 1127.3,546.7 1118.0,538.8"/><polyline points="1172.1,480.3 1172.4,490.3 1185.2,484.0 1195.9,482.9 1206.3,493.4 1212.6,493.4 1223.5,499.7 1220.4,515.4 1226.7,518.5 1231.4,512.2"/><polyline points="1251.8,478.5 1240.8,482.4 1234.5,491.8 1236.1,502.8 1231.4,512.2 1236.1,521.6 1228.3,527.9 1231.4,540.5 1234.5,549.9 1245.5,551.5"/><polyline points="1251.8,480.0 1247.1,487.1 1244.0,499.7 1247.1,510.6 1245.5,521.6 1248.7,527.9 1244.0,537.3 1247.1,548.3"/><polyline points="1228.0,527.0 1236.0,538.0 1242.0,546.0"/><polyline points="1236.0,521.0 1241.0,528.0 1245.0,534.0"/><polyline points="1234.0,505.0 1240.0,512.0"/><polyline points="1150.4,419.0 1150.4,480.3 1254.5,480.3 1253.4,513.8 1266.2,513.8"/><polyline points="1256.0,482.0 1262.0,474.0 1268.3,471.1 1261.9,458.4 1264.1,447.7 1266.2,437.0 1262.0,424.3 1260.8,419.8"/><polyline points="1166.0,410.5 1166.0,420.0 1260.8,420.0 1268.3,430.4 1291.7,447.5"/><polyline points="1301.3,340.5 1299.2,377.2 1303.5,398.5 1300.3,419.8 1298.1,447.5"/><polyline points="1303.5,400.6 1355.6,400.6"/><polyline points="1340.7,334.6 1338.6,349.5 1330.0,360.1 1321.6,379.3 1318.4,400.0"/><polyline points="1348.2,333.5 1353.5,387.8 1356.7,393.1"/><polyline points="1300.3,418.7 1343.9,418.7 1345.0,428.3 1350.0,434.0"/><polyline points="1336.5,418.7 1336.5,437.0"/><polyline points="318.6,419.5 318.6,500.0 432.6,602.6 439.3,620.5 437.1,627.2 430.4,645.2 432.6,658.6 430.0,669.8"/><polyline points="444.0,552.2 444.1,574.7 434.9,577.0 431.4,583.9 432.6,602.6"/><polygon points="260.5,235.3 842.0,235.2 842.0,225.8 850.1,225.8 852.4,241.4 872.0,246.0 888.0,244.9 899.5,252.9 918.0,258.7 931.7,255.2 941.0,257.5 961.6,262.1 949.0,266.2 933.8,273.8 921.4,285.2 904.3,296.7 909.0,294.8 923.3,291.0 931.9,290.0 931.0,298.6 939.5,298.6 947.1,298.6 954.8,291.9 966.2,289.0 973.8,284.3 983.3,277.6 990.0,274.5 997.6,275.2 999.0,277.5 994.8,279.5 987.1,286.2 983.3,293.8 990.0,289.0 999.5,291.9 1007.1,300.5 1018.6,302.4 1031.0,296.7 1056.7,294.8 1057.6,301.4 1071.0,302.4 1075.7,312.9 1079.5,314.8 1074.5,322.0 1087.9,330.4 1093.0,338.8 1091.3,348.9 1089.6,357.3 1081.2,367.4 1081.2,374.1 1093.0,367.4 1101.4,365.7 1108.1,374.1 1109.8,390.9 1106.4,404.4 1096.3,411.1 1093.0,421.2 1089.6,426.2 1101.4,433.0 1118.2,433.0 1135.0,424.5 1160.2,414.5 1182.1,401.0 1182.1,390.9 1190.0,384.2 1210.8,384.6 1227.8,383.6 1240.6,377.2 1238.5,364.4 1253.4,351.6 1268.3,340.5 1340.7,340.5 1348.2,332.4 1354.6,328.2 1362.0,321.8 1366.3,311.1 1370.6,298.3 1389.7,276.0 1394.0,281.3 1407.8,278.1 1419.6,287.7 1419.6,321.8 1426.0,326.0 1428.1,334.6 1435.5,343.1 1434.5,347.3 1415.3,351.6 1398.2,356.9 1383.3,366.5 1368.4,376.1 1361.0,385.7 1355.6,394.2 1351.4,404.9 1349.7,410.8 1358.7,417.9 1361.3,425.1 1367.6,428.7 1372.1,426.0 1373.9,420.6 1371.2,416.1 1367.0,418.0 1369.0,423.0 1365.0,426.0 1358.7,429.0 1350.0,433.0 1342.9,436.8 1323.7,441.1 1302.4,445.3 1293.9,447.5 1285.4,458.4 1289.6,462.6 1287.5,477.5 1276.9,492.4 1270.5,498.8 1264.0,492.0 1258.0,484.0 1256.0,482.5 1259.8,490.3 1264.0,505.2 1266.2,513.8 1262.0,530.8 1249.2,547.8 1247.0,552.1 1249.2,564.9 1253.4,573.4 1256.0,582.8 1256.0,590.6 1246.6,601.6 1234.0,607.9 1218.4,614.2 1202.7,626.7 1193.2,633.0 1180.7,645.6 1174.4,655.0 1163.4,662.3 1148.5,670.8 1142.1,679.3 1135.7,687.8 1129.3,704.9 1129.6,716.2 1133.9,733.7 1140.5,755.6 1149.2,779.6 1158.0,808.1 1161.2,823.5 1158.9,848.3 1151.8,862.4 1141.2,864.7 1137.7,860.0 1131.8,848.3 1124.7,843.6 1122.4,830.6 1115.3,817.7 1103.5,801.2 1105.5,795.0 1107.7,790.6 1103.3,786.2 1105.5,766.5 1101.1,757.8 1090.2,749.0 1079.3,735.9 1072.7,733.7 1061.8,740.3 1048.7,742.5 1042.1,731.5 1029.0,725.0 1013.7,725.0 998.4,729.4 991.1,716.2 994.2,728.3 983.1,725.3 974.0,724.3 962.9,727.3 960.9,730.3 966.9,732.4 967.9,738.4 956.8,746.5 963.9,763.6 971.0,758.6 960.9,754.6 950.8,749.5 945.7,759.6 938.7,754.6 932.6,759.6 924.6,752.5 918.5,744.5 912.5,740.4 905.4,742.5 900.3,747.5 885.2,741.4 870.1,742.5 860.0,747.5 845.1,749.5 833.0,761.6 808.9,773.6 796.9,790.5 792.0,804.9 792.0,819.4 796.9,842.3 784.8,841.1 772.8,838.7 758.3,831.4 753.5,817.0 748.7,802.5 736.6,783.3 729.4,771.2 722.2,754.3 707.7,742.3 690.8,739.9 681.2,747.1 672.8,762.8 664.3,759.2 649.9,749.5 642.7,737.5 635.4,723.0 621.0,711.0 606.5,694.1 600.0,685.0 567.1,687.5 567.1,700.1 506.6,700.1 430.4,669.8 432.6,663.1 378.8,669.8 374.3,651.9 356.4,638.5 345.2,629.5 322.8,620.5 304.8,613.8 300.3,595.9 292.0,585.0 282.4,571.2 278.6,556.3 269.4,537.9 255.6,524.1 251.0,510.3 239.5,492.0 234.9,471.3 228.0,457.5 232.6,434.5 228.0,419.5 225.6,395.0 231.0,370.7 235.0,327.6 236.0,310.0 236.6,305.1 234.2,294.0 236.6,290.3 231.7,284.2 224.3,265.7 219.4,250.9 234.2,254.6 249.0,257.0 256.0,258.0 256.0,248.0 258.0,237.0" stroke-width="4.3"/></g><polygon points="253.9,243.5 261.3,239.8 267.5,243.5 268.7,254.6 273.6,260.7 269.9,268.1 271.2,278.0 265.0,286.6 256.4,286.6 252.7,279.2 256.4,269.4 257.6,259.5 252.7,249.6" fill="#000" stroke="#000" stroke-width="2" stroke-linejoin="round"/><polygon points="265.5,521.0 273.9,524.4 270.5,531.1 277.2,539.5 270.5,537.8 263.8,531.1 258.7,526.0 257.0,521.0" fill="#000" stroke="#000" stroke-width="2.5" stroke-linejoin="round"/><polygon points="1289.6,450.2 1310.2,444.8 1322.8,441.3 1332.6,443.0 1330.0,446.6 1313.8,452.9 1303.0,457.4 1286.9,461.0 1281.5,459.2" fill="#5a4c18" stroke="#000" stroke-width="3.2" stroke-linejoin="round"/><polyline points="1296,451 1312,446 1326,442" fill="none" stroke="#000" stroke-width="2"/><ellipse cx="1356" cy="438.5" rx="4" ry="2.5" fill="#000"/><ellipse cx="1370" cy="438.5" rx="4" ry="2.5" fill="#000"/><polygon points="967.0,265.2 969.0,267.1 981.4,259.5 984.3,257.1 981.4,256.7 968.1,262.4" fill="#4d4d4d" stroke="#4d4d4d" stroke-width="1.5" stroke-linejoin="round"/><polygon points="930.0,288.0 936.0,286.2 942.4,287.0 940.0,292.9 933.0,292.0" fill="#4d4d4d"/><polygon points="1070.0,300.0 1076.0,300.0 1077.0,314.0 1071.0,314.0" fill="#4d4d4d"/><polygon points="1079.0,312.0 1088.0,313.0 1088.0,318.0 1079.0,317.0" fill="#4d4d4d"/><ellipse cx="1106" cy="793" rx="5" ry="5.5" fill="#000"/><ellipse cx="1116" cy="818" rx="3.5" ry="3.5" fill="#000"/><ellipse cx="1139" cy="861" rx="4" ry="4" fill="#000"/><polyline points="1098.8,877.7 1115.3,880 1133,874.1 1146,867.1 1155.4,857.7" fill="none" stroke="#dad3ea" stroke-width="2.5"/><polyline points="1232,569 1248,577 1238,585 1252,581 1232,593 1244,600 1222,607 1238,611" fill="none" stroke="#000" stroke-width="3.2" stroke-linejoin="round"/><polyline points="1221.5,520.7 1233.6,540.9" fill="none" stroke="#000" stroke-width="3"/><polyline points="1225.5,545 1241.6,553" fill="none" stroke="#000" stroke-width="3"/><polyline points="1226,532 1238,546" fill="none" stroke="#000" stroke-width="3"/><polyline points="789,812 793,796 800,786 808,777 820,771 832,764 842,754 848,748" fill="none" stroke="#000" stroke-width="3" stroke-linejoin="round"/><polygon points="942.7,728.3 947.8,725.3 955.8,730.3 948.8,735.4 942.7,733.4" fill="#50c3b4" stroke="#000" stroke-width="3" stroke-linejoin="round"/></svg>
<div class="lt">Avg date of<br>1st gen. larval<br>development</div>
<div class="sw" style="left:1479.2px;top:407.20px;background:#4d4d4d"></div><div class="lb" style="left:1516.9px;top:407.70px">excl.-sev.</div><div class="sw" style="left:1479.2px;top:432.55px;background:#b3b3b3"></div><div class="lb" style="left:1516.9px;top:433.05px">excl.-mod.</div><div class="sw" style="left:1479.2px;top:457.90px;background:#dad3ea"></div><div class="lb" style="left:1516.9px;top:458.40px">Jan-22</div><div class="sw" style="left:1479.2px;top:483.25px;background:#afa3cb"></div><div class="lb" style="left:1516.9px;top:483.75px">Jan-29</div><div class="sw" style="left:1479.2px;top:508.60px;background:#aef7e2"></div><div class="lb" style="left:1516.9px;top:509.10px">Feb-05</div><div class="sw" style="left:1479.2px;top:533.95px;background:#8fe3d0"></div><div class="lb" style="left:1516.9px;top:534.45px">Feb-12</div><div class="sw" style="left:1479.2px;top:559.30px;background:#72d3c2"></div><div class="lb" style="left:1516.9px;top:559.80px">Feb-19</div><div class="sw" style="left:1479.2px;top:584.65px;background:#50c3b4"></div><div class="lb" style="left:1516.9px;top:585.15px">Feb-26</div><div class="sw" style="left:1479.2px;top:610.00px;background:#b9fdc6"></div><div class="lb" style="left:1516.9px;top:610.50px">Mar-05</div><div class="sw" style="left:1479.2px;top:635.35px;background:#8ed098"></div><div class="lb" style="left:1516.9px;top:635.85px">Mar-12</div><div class="sw" style="left:1479.2px;top:660.70px;background:#63a56b"></div><div class="lb" style="left:1516.9px;top:661.20px">Mar-19</div><div class="sw" style="left:1479.2px;top:686.05px;background:#3c7a3f"></div><div class="lb" style="left:1516.9px;top:686.55px">Mar-26</div><div class="sw" style="left:1479.2px;top:711.40px;background:#c8ff00"></div><div class="lb" style="left:1516.9px;top:711.90px">Apr-02</div><div class="sw" style="left:1479.2px;top:736.75px;background:#a4ee00"></div><div class="lb" style="left:1516.9px;top:737.25px">Apr-09</div><div class="sw" style="left:1479.2px;top:762.10px;background:#7ddf00"></div><div class="lb" style="left:1516.9px;top:762.60px">Apr-16</div><div class="sw" style="left:1639.1px;top:407.20px;background:#52d40c"></div><div class="lb" style="left:1676.5px;top:407.70px">Apr-23</div><div class="sw" style="left:1639.1px;top:432.55px;background:#2ebf14"></div><div class="lb" style="left:1676.5px;top:433.05px">Apr-30</div><div class="sw" style="left:1639.1px;top:457.90px;background:#ffff00"></div><div class="lb" style="left:1676.5px;top:458.40px">May-07</div><div class="sw" style="left:1639.1px;top:483.25px;background:#e0d900"></div><div class="lb" style="left:1676.5px;top:483.75px">May-14</div><div class="sw" style="left:1639.1px;top:508.60px;background:#beac00"></div><div class="lb" style="left:1676.5px;top:509.10px">May-21</div><div class="sw" style="left:1639.1px;top:533.95px;background:#9b7f10"></div><div class="lb" style="left:1676.5px;top:534.45px">May-28</div><div class="sw" style="left:1639.1px;top:559.30px;background:#ffd68c"></div><div class="lb" style="left:1676.5px;top:559.80px">Jun-04</div><div class="sw" style="left:1639.1px;top:584.65px;background:#fec372"></div><div class="lb" style="left:1676.5px;top:585.15px">Jun-11</div><div class="sw" style="left:1639.1px;top:610.00px;background:#fcab55"></div><div class="lb" style="left:1676.5px;top:610.50px">Jun-18</div><div class="sw" style="left:1639.1px;top:635.35px;background:#ff9634"></div><div class="lb" style="left:1676.5px;top:635.85px">Jun-25</div><div class="sw" style="left:1639.1px;top:660.70px;background:#f2cccc"></div><div class="lb" style="left:1676.5px;top:661.20px">Jul-02</div><div class="sw" style="left:1639.1px;top:686.05px;background:#f29a9a"></div><div class="lb" style="left:1676.5px;top:686.55px">Jul-09</div><div class="sw" style="left:1639.1px;top:711.40px;background:#f46464"></div><div class="lb" style="left:1676.5px;top:711.90px">Jul-16</div><div class="sw" style="left:1639.1px;top:736.75px;background:#f73232"></div><div class="lb" style="left:1676.5px;top:737.25px">Jul-23</div><div class="sw" style="left:1639.1px;top:762.10px;background:#ff0000"></div><div class="lb" style="left:1676.5px;top:762.60px">Jul-30</div><div class="sw" style="left:1767px;top:407.20px;background:#e5b8b0"></div><div class="lb" style="left:1803.5px;top:407.70px">Aug-06</div>
</body></html>
